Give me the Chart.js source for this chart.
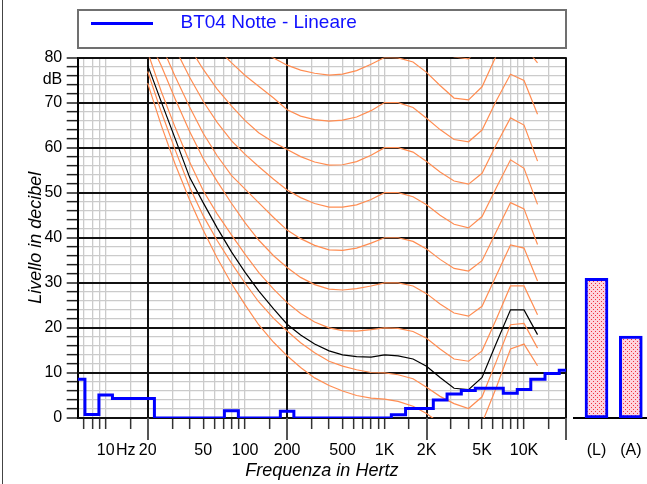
<!DOCTYPE html>
<html>
<head>
<meta charset="utf-8">
<title>BT04 Notte - Lineare</title>
<script src="https://cdn.jsdelivr.net/npm/chart.js@4.4.0/dist/chart.umd.min.js"></script>
<style>
  html, body { margin: 0; padding: 0; background: #fff; overflow: hidden; }
  #wrap { position: relative; width: 647px; height: 484px; overflow: hidden; }
  #wrap canvas { position: absolute; left: 0; top: 0; }
  #frame { position: absolute; left: 1.5px; top: 0; height: 484px; border-left: 1.5px solid #444; }
  #legend { position: absolute; left: 76.5px; top: 9px; width: 490.5px; height: 39.5px;
            box-sizing: border-box; border: 2px solid #707070; }
  #legend .swatch { position: absolute; left: 12px; top: 11px; width: 62px; height: 3px; background: #0000ff; }
  #legend .label { position: absolute; left: 102px; top: 0.5px; font: 19px/19px 'Liberation Sans', Arial, sans-serif;
                   color: #1010ff; white-space: nowrap; }
</style>
</head>
<body>
<div id="wrap">
  <canvas id="main" width="647" height="484"></canvas>
  <canvas id="bars" width="650" height="484"></canvas>
  <div id="frame"></div>
  <div id="legend"><span class="swatch"></span><span class="label">BT04 Notte - Lineare</span></div>
</div>
<script>
// 1/3 octave band spectrum (blue steps)
const bandFreq = [6.3, 8, 10, 12.5, 16, 20, 25, 31.5, 40, 50, 63, 80, 100, 125, 160, 200, 250, 315, 400,
  500, 630, 800, 1000, 1250, 1600, 2000, 2500, 3150, 4000, 5000, 6300, 8000, 10000, 12500, 16000, 20000];
const bandLevel = [8.6, 0.8, 5.1, 4.3, 4.3, 4.3, 0, 0, 0, 0, 0, 1.6, 0, 0, 0, 1.5, 0, 0, 0,
  0, 0, 0, 0, 0.7, 2.1, 2.1, 4.0, 5.3, 6.1, 6.6, 6.6, 5.5, 6.3, 8.6, 9.9, 10.6];

// equal loudness contours
const contourFreq = [20, 25, 31.5, 40, 50, 63, 80, 100, 125, 160, 200, 250, 315, 400, 500, 630, 800,
  1000, 1250, 1600, 2000, 2500, 3150, 4000, 5000, 6300, 8000, 10000, 12500];
const thresholdCurve = [78.3, 70.2, 62.0, 53.4, 47.8, 42.2, 36.8, 32.3, 28.2, 24.2, 20.8, 18.4, 16.4, 14.9, 14.0, 13.6, 13.5,
  14.0, 13.8, 13.1, 11.5, 9.0, 6.6, 6.3, 9.0, 16.5, 24.0, 24.0, 18.5];
const phonMaf = [74.3, 65.0, 56.3, 48.4, 41.7, 35.5, 29.8, 25.1, 20.7, 16.8, 13.8, 11.2, 8.9, 7.2, 6.0, 5.0, 4.4,
  4.2, 3.7, 2.6, 1.0, -1.2, -3.6, -3.9, -1.1, 6.6, 15.3, 16.4, 11.6];
const phon10 = [76.9, 68.0, 59.5, 51.2, 44.9, 39.4, 34.3, 29.9, 25.8, 22.1, 19.3, 16.7, 14.5, 12.6, 11.5, 10.7, 10.1,
  10.0, 9.6, 8.7, 6.8, 4.8, 3.2, 2.1, 4.7, 12.4, 20.7, 21.0, 15.5];
const phon20 = [81.2, 72.5, 64.5, 56.8, 50.5, 45.3, 40.6, 36.3, 32.3, 28.6, 25.6, 23.2, 21.3, 20.0, 19.4, 19.3, 19.6,
  20.0, 19.9, 19.2, 17.7, 15.3, 13.1, 12.6, 14.9, 21.8, 29.3, 29.3, 22.9];
const phon30 = [84.5, 78.2, 70.8, 63.6, 57.6, 52.5, 47.6, 43.3, 39.5, 36.0, 33.4, 31.2, 29.6, 28.6, 28.4, 28.7, 29.3,
  30.0, 30.0, 29.3, 27.6, 25.3, 23.3, 22.6, 24.8, 31.5, 38.4, 37.7, 30.4];
const phon40 = [89.5, 82.8, 75.8, 69.0, 63.2, 58.2, 53.8, 50.8, 47.8, 44.5, 41.7, 39.8, 38.3, 37.3, 37.2, 37.7, 38.8,
  40.0, 40.0, 39.2, 37.5, 35.2, 33.2, 32.6, 34.9, 41.3, 47.8, 46.4, 38.5];
const phon50 = [95.0, 88.5, 82.0, 75.6, 70.3, 65.6, 61.5, 58.5, 55.8, 53.0, 50.6, 48.9, 47.6, 46.8, 46.8, 47.3, 48.5,
  50.0, 50.0, 49.1, 47.3, 45.0, 43.0, 42.2, 44.7, 51.0, 57.3, 55.4, 47.4];
const phon60 = [100.0, 94.0, 88.0, 82.2, 77.4, 73.0, 69.2, 66.0, 63.3, 61.2, 59.6, 58.0, 56.8, 56.1, 56.2, 56.9, 58.3,
  60.0, 60.0, 59.0, 56.9, 54.6, 52.6, 51.9, 54.3, 60.6, 66.6, 65.0, 57.0];
const phon70 = [105.0, 99.5, 94.5, 89.5, 85.5, 82.0, 78.8, 76.0, 73.6, 71.0, 68.4, 67.0, 66.2, 65.9, 66.1, 66.8, 68.2,
  70.0, 70.0, 68.9, 66.5, 64.0, 61.8, 61.3, 63.9, 70.3, 76.3, 74.9, 67.4];
const phon80 = [110.0, 105.0, 100.5, 96.0, 92.5, 89.0, 86.0, 83.6, 81.6, 79.9, 78.3, 77.2, 76.5, 76.1, 76.3, 77.1, 78.5,
  80.0, 79.9, 79.0, 76.7, 73.8, 71.0, 70.6, 73.5, 80.3, 84.5, 82.6, 78.8];
const phon90 = [null, null, null, null, null, null, null, null, null, null, null, null, null, null, null, null, null,
  null, null, null, 86.5, 83.4, 80.1, 79.7, 82.6, 89.0, null, null, null];

// overall levels (right bars)
const barLabels = ['(L)', '(A)'];
const barValues = [31.0, 18.2];

// axes
const xGridFreq = [7, 8, 9, 10, 15, 20, 30, 40, 50, 60, 70, 80, 90, 100, 150, 200, 300, 400, 500, 600, 700, 800, 900,
  1000, 1500, 2000, 3000, 4000, 5000, 6000, 7000, 8000, 9000, 10000, 15000, 20000];
const xMajorFreq = [20, 200, 2000, 20000];
const xLabelFreq = [10, 15, 20, 50, 100, 200, 500, 1000, 2000, 5000, 10000];
const xLabelText = ['10', 'Hz\u00a0\u00a0', '20', '50', '100', '200', '500', '1K', '2K', '5K', '10K'];
const yTickValues = [0, 2, 4, 6, 8, 10, 12, 14, 16, 18, 20, 22, 24, 26, 28, 30, 32, 34, 36, 38, 40,
  42, 44, 46, 48, 50, 52, 54, 56, 58, 60, 62, 64, 66, 68, 70, 72, 74, 75, 76, 78, 80];
const yUnitTick = 75;

Chart.defaults.font.family = "'Liberation Sans', Arial, sans-serif";
Chart.defaults.font.size = 16;
Chart.defaults.color = '#000';

const ORANGE = '#ff8d52';
const toPoints = (freqs, levels) => freqs.map((f, i) => ({ x: f, y: levels[i] }));

const contourSets = [phonMaf, phon10, phon20, phon30, phon40, phon50, phon60, phon70, phon80, phon90]
  .map(levels => ({
    data: toPoints(contourFreq, levels),
    borderColor: ORANGE,
    borderWidth: 1.2
  }));

// dark decade / 10 dB lines on top of the light grid, plus long marks under the decades
const majorGrid = {
  id: 'majorGrid',
  beforeDatasetsDraw(chart) {
    const { ctx, chartArea: a } = chart;
    const { x, y } = chart.scales;
    ctx.save();
    ctx.lineWidth = 2;
    ctx.strokeStyle = '#111';
    ctx.beginPath();
    xMajorFreq.forEach(f => {
      const px = Math.round(x.getPixelForValue(f) - 1) + 1;
      ctx.moveTo(px, a.top);
      ctx.lineTo(px, a.bottom);
    });
    yTickValues.filter(v => v % 10 === 0).forEach(v => {
      const py = Math.round(y.getPixelForValue(v) - 1) + 1;
      ctx.moveTo(a.left, py);
      ctx.lineTo(a.right, py);
    });
    ctx.stroke();
    ctx.strokeStyle = '#555';
    ctx.beginPath();
    xMajorFreq.forEach(f => {
      const px = Math.round(x.getPixelForValue(f) - 1) + 1;
      ctx.moveTo(px, a.bottom);
      ctx.lineTo(px, a.bottom + 22);
    });
    ctx.stroke();
    ctx.restore();
  }
};

new Chart(document.getElementById('main'), {
  type: 'line',
  data: {
    datasets: [
      {
        data: toPoints(bandFreq, bandLevel),
        borderColor: '#0000ff',
        borderWidth: 3,
        stepped: 'middle'
      },
      {
        data: toPoints(contourFreq, thresholdCurve),
        borderColor: '#000',
        borderWidth: 1.2
      },
      ...contourSets
    ]
  },
  options: {
    responsive: false,
    animation: false,
    events: [],
    layout: { padding: { left: 0, right: 81, top: 57.5, bottom: 0 } },
    elements: {
      point: { radius: 0 },
      line: { tension: 0, fill: false }
    },
    plugins: {
      legend: { display: false },
      tooltip: { enabled: false }
    },
    scales: {
      x: {
        type: 'logarithmic',
        min: 6.3,
        max: 20000,
        afterBuildTicks: s => { s.ticks = xGridFreq.map(v => ({ value: v })); },
        afterFit: s => { s.height = 66; },
        grid: {
          color: c => (c.tick && xMajorFreq.includes(c.tick.value)) ? '#111' : '#cbcbcb',
          lineWidth: c => (c.tick && xMajorFreq.includes(c.tick.value)) ? 2 : 1.3,
          tickColor: '#333',
          tickWidth: 1.5,
          tickLength: 11
        },
        border: { color: '#000', width: 2 },
        ticks: {
          autoSkip: false,
          maxRotation: 0,
          minRotation: 0,
          padding: 12,
          callback: v => {
            const i = xLabelFreq.indexOf(v);
            return i >= 0 ? xLabelText[i] : '';
          }
        },
        title: {
          display: true,
          text: 'Frequenza in Hertz',
          font: { size: 18, style: 'italic' },
          padding: { top: 0, bottom: 2 }
        }
      },
      y: {
        min: 0,
        max: 80,
        afterBuildTicks: s => { s.ticks = yTickValues.map(v => ({ value: v })); },
        afterFit: s => { s.width = 77.7; },
        grid: {
          color: c => {
            if (!c.tick) return '#cbcbcb';
            if (c.tick.value === yUnitTick) return 'rgba(0,0,0,0)';
            return c.tick.value % 10 === 0 ? '#111' : '#cbcbcb';
          },
          lineWidth: c => (c.tick && c.tick.value % 10 === 0) ? 2 : 1.3,
          tickColor: c => (c.tick && c.tick.value === yUnitTick) ? 'rgba(0,0,0,0)' : '#222',
          tickWidth: 1.5,
          tickLength: 11
        },
        border: { color: '#000', width: 2 },
        ticks: {
          autoSkip: false,
          padding: 4.5,
          callback: v => v === yUnitTick ? 'dB' : (v % 10 === 0 ? String(v) : '')
        },
        title: {
          display: true,
          text: 'Livello in decibel',
          font: { size: 18, style: 'italic' },
          padding: { top: 25, bottom: 0 }
        }
      }
    }
  },
  plugins: [majorGrid]
});

// dotted pink fill for the overall level bars
const tile = document.createElement('canvas');
tile.width = 4;
tile.height = 4;
const tctx = tile.getContext('2d');
tctx.fillStyle = '#ffd3dc';
tctx.fillRect(0, 0, 4, 4);
tctx.fillStyle = '#f03040';
tctx.fillRect(1, 1, 1, 1);
tctx.fillRect(3, 3, 1, 1);
const barCanvas = document.getElementById('bars');
const dots = barCanvas.getContext('2d').createPattern(tile, 'repeat');

new Chart(barCanvas, {
  type: 'bar',
  data: {
    datasets: [{
      data: barValues.map((v, i) => ({ x: i + 1, y: v })),
      backgroundColor: dots,
      borderColor: '#0000ff',
      borderWidth: 3,
      borderSkipped: false,
      barThickness: 23
    }]
  },
  options: {
    responsive: false,
    animation: false,
    events: [],
    layout: { padding: { left: 574, right: 3, top: 57.5, bottom: 0 } },
    plugins: {
      legend: { display: false },
      tooltip: { enabled: false }
    },
    scales: {
      x: {
        type: 'linear',
        offset: false,
        min: 0.344,
        max: 2.472,
        afterBuildTicks: s => { s.ticks = barLabels.map((l, i) => ({ value: i + 1 })); },
        afterFit: s => { s.height = 66; },
        grid: { display: true, drawOnChartArea: false, drawTicks: true, tickLength: 23, tickColor: 'rgba(0,0,0,0)' },
        border: { color: '#000', width: 2 },
        ticks: {
          autoSkip: false,
          maxRotation: 0,
          padding: 0,
          callback: v => barLabels[v - 1] ?? ''
        }
      },
      y: { display: false, min: 0, max: 80 }
    }
  }
});
</script>
</body>
</html>
